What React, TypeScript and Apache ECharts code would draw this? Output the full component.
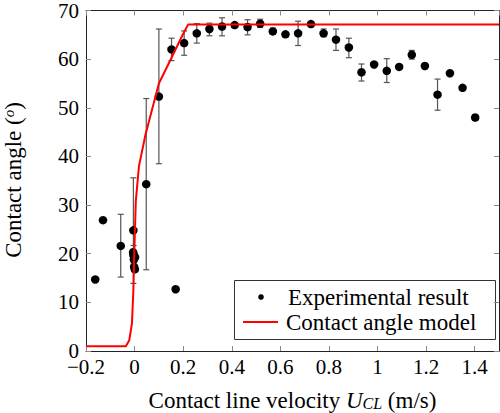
import React, { useEffect, useRef } from 'react';
import * as echarts from 'echarts';

// Experimental result: contact line velocity (m/s) and contact angle (deg)
const expX = [
  -0.162, -0.13, -0.057, -0.005, -0.006, -0.004, 0.002, -0.003, -0.004, -0.002, 0.001,
  0.048, 0.1, 0.152, 0.169, 0.204, 0.256, 0.308, 0.36, 0.412, 0.465, 0.517, 0.569,
  0.621, 0.673, 0.726, 0.778, 0.829, 0.882, 0.934, 0.986, 1.038, 1.089, 1.141, 1.195,
  1.247, 1.298, 1.35, 1.402,
];
const expY = [
  14.7, 26.9, 21.6, 24.8, 20.3, 19.8, 19.3, 18.8, 19.6, 17.3, 16.8,
  34.3, 52.3, 62.0, 12.7, 63.3, 65.3, 66.2, 66.7, 67.0, 66.6, 67.3, 65.7,
  65.1, 65.3, 67.2, 65.3, 64.0, 62.4, 57.3, 58.9, 57.6, 58.4, 60.9, 58.6,
  52.7, 57.1, 54.1, 48.0,
];

// Error bars: x, lower, upper
const errX = [-0.057, -0.005, -0.004, 0.048, 0.1, 0.152, 0.204, 0.256, 0.308, 0.36, 0.412, 0.465, 0.517, 0.569, 0.621, 0.673, 0.778, 0.829, 0.882, 0.934, 1.038, 1.141, 1.247, 1.402];
const errLow = [15.2, 13.9, 17.9, 16.7, 38.5, 59.7, 60.8, 63.3, 64.8, 64.8, 66.6, 65.0, 66.5, 65.1, 64.6, 62.8, 64.6, 61.8, 60.3, 55.5, 55.2, 60.0, 49.5, 47.4];
const errHigh = [28.1, 35.6, 21.7, 51.9, 66.2, 64.3, 65.8, 67.3, 67.4, 68.5, 67.4, 68.1, 68.2, 66.4, 65.6, 67.8, 66.2, 66.2, 64.3, 59.0, 60.1, 61.8, 55.9, 48.6];

// Contact angle model curve
const modelX = [-0.2, -0.036, -0.022, -0.011, -0.005, -0.001, 0.005, 0.018, 0.045, 0.1, 0.155, 0.196, 0.22, 1.5];
const modelY = [1, 1, 2.2, 5.6, 12.4, 20.6, 30.8, 38.0, 44.5, 55.0, 60.6, 64.8, 67.1, 67.1];

const xMin = -0.2;
const xMax = 1.5;
const xStep = 0.2;
const yMin = 0;
const yMax = 70;
const yStep = 10;

const FONT = 'Liberation Serif';

function fmt(v: number): string {
  const r = Math.round(v * 10) / 10;
  if (Math.abs(r) < 1e-9) return '0';
  return r < 0 ? '\u2212' + String(Math.abs(r)) : String(r);
}

export default function App() {
  const ref = useRef<HTMLDivElement>(null);
  useEffect(() => {
    if (!ref.current) return;
    const chart = echarts.init(ref.current, undefined, { renderer: 'svg' });
    const tickStyle = { show: true, inside: true, length: 5, lineStyle: { color: '#8a8a8a', width: 1 } };
    const lineStyle = { show: true, onZero: false, lineStyle: { color: '#222', width: 1 } };
    const common = {
      min: xMin, max: xMax, interval: xStep, type: 'value' as const,
      splitLine: { show: false }, axisLine: lineStyle, axisTick: tickStyle,
    };
    const commonY = {
      min: yMin, max: yMax, interval: yStep, type: 'value' as const,
      splitLine: { show: false }, axisLine: lineStyle, axisTick: tickStyle,
    };
    const option: any = {
      animation: false,
      backgroundColor: '#fff',
      textStyle: { fontFamily: FONT },
      grid: { left: 86, top: 8, right: 1, bottom: 62, containLabel: false },
      xAxis: [
        {
          ...common, position: 'bottom',
          axisLabel: { show: true, margin: 8, color: '#000', fontFamily: FONT, fontSize: 21, lineHeight: 15, formatter: fmt, showMaxLabel: false },
        },
        { ...common, position: 'top', axisLabel: { show: false } },
      ],
      yAxis: [
        {
          ...commonY, position: 'left',
          axisLabel: { show: true, margin: 7, color: '#000', fontFamily: FONT, fontSize: 21, lineHeight: 15, formatter: fmt },
        },
        { ...commonY, position: 'right', axisLabel: { show: false } },
      ],
      series: [
        {
          type: 'custom',
          name: 'errors',
          data: errX.map((x, i) => [x, errLow[i], errHigh[i]]),
          encode: { x: 0, y: [1, 2] },
          z: 2,
          renderItem: (params: any, api: any) => {
            const x = api.value(0);
            const lo = api.coord([x, api.value(1)]);
            const hi = api.coord([x, api.value(2)]);
            const w = 3;
            const st = { stroke: '#555', lineWidth: 1.2 };
            return {
              type: 'group',
              children: [
                { type: 'line', shape: { x1: lo[0], y1: lo[1], x2: hi[0], y2: hi[1] }, style: st },
                { type: 'line', shape: { x1: lo[0] - w, y1: lo[1], x2: lo[0] + w, y2: lo[1] }, style: st },
                { type: 'line', shape: { x1: hi[0] - w, y1: hi[1], x2: hi[0] + w, y2: hi[1] }, style: st },
              ],
            };
          },
        },
        {
          type: 'scatter',
          name: 'Experimental result',
          data: expX.map((x, i) => [x, expY[i]]),
          symbol: 'circle',
          symbolSize: 8.5,
          itemStyle: { color: '#000', opacity: 1 },
          z: 3,
        },
        {
          type: 'line',
          name: 'Contact angle model',
          data: modelX.map((x, i) => [x, modelY[i]]),
          showSymbol: false,
          symbol: 'none',
          lineStyle: { color: '#f00', width: 2 },
          z: 4,
        },
      ],
      graphic: [
        {
          type: 'text',
          x: 292.5,
          y: 400,
          style: {
            text: '{a|Contact line velocity }{i|U}{s|CL}{a| (m/s)}',
            align: 'center',
            verticalAlign: 'middle',
            rich: {
              a: { fontFamily: FONT, fontSize: 23, fill: '#000', verticalAlign: 'middle' },
              i: { fontFamily: FONT, fontSize: 23, fontStyle: 'italic', fill: '#000', verticalAlign: 'middle' },
              s: { fontFamily: FONT, fontSize: 16, fontStyle: 'italic', fill: '#000', verticalAlign: 'bottom' },
            },
          },
        },
        {
          type: 'text',
          x: 13,
          y: 180,
          rotation: Math.PI / 2,
          style: {
            text: '{a|Contact angle (}{s|o}{a|)}',
            align: 'center',
            verticalAlign: 'middle',
            rich: {
              a: { fontFamily: FONT, fontSize: 23, fill: '#000', verticalAlign: 'middle' },
              s: { fontFamily: FONT, fontSize: 15, fontStyle: 'italic', fill: '#000', verticalAlign: 'top' },
            },
          },
        },
        {
          type: 'group',
          children: [
            { type: 'rect', shape: { x: 234.5, y: 280.5, width: 261, height: 59 }, style: { fill: '#fff', stroke: '#333', lineWidth: 1 } },
            { type: 'circle', shape: { cx: 261, cy: 297, r: 2.8 }, style: { fill: '#000' } },
            { type: 'line', shape: { x1: 243, y1: 322, x2: 278, y2: 322 }, style: { stroke: '#f00', lineWidth: 2 } },
            { type: 'text', x: 288, y: 297, style: { text: 'Experimental result', fontFamily: FONT, fontSize: 23, fill: '#000', verticalAlign: 'middle', align: 'left' } },
            { type: 'text', x: 286, y: 322, style: { text: 'Contact angle model', fontFamily: FONT, fontSize: 23, fill: '#000', verticalAlign: 'middle', align: 'left' } },
          ],
          z: 100,
        },
      ],
    };
    chart.setOption(option);
    return () => chart.dispose();
  }, []);
  return (
    <div
      ref={ref}
      style={{ position: 'fixed', left: 0, top: 0, width: 500, height: 413, background: '#fff' }}
    />
  );
}
